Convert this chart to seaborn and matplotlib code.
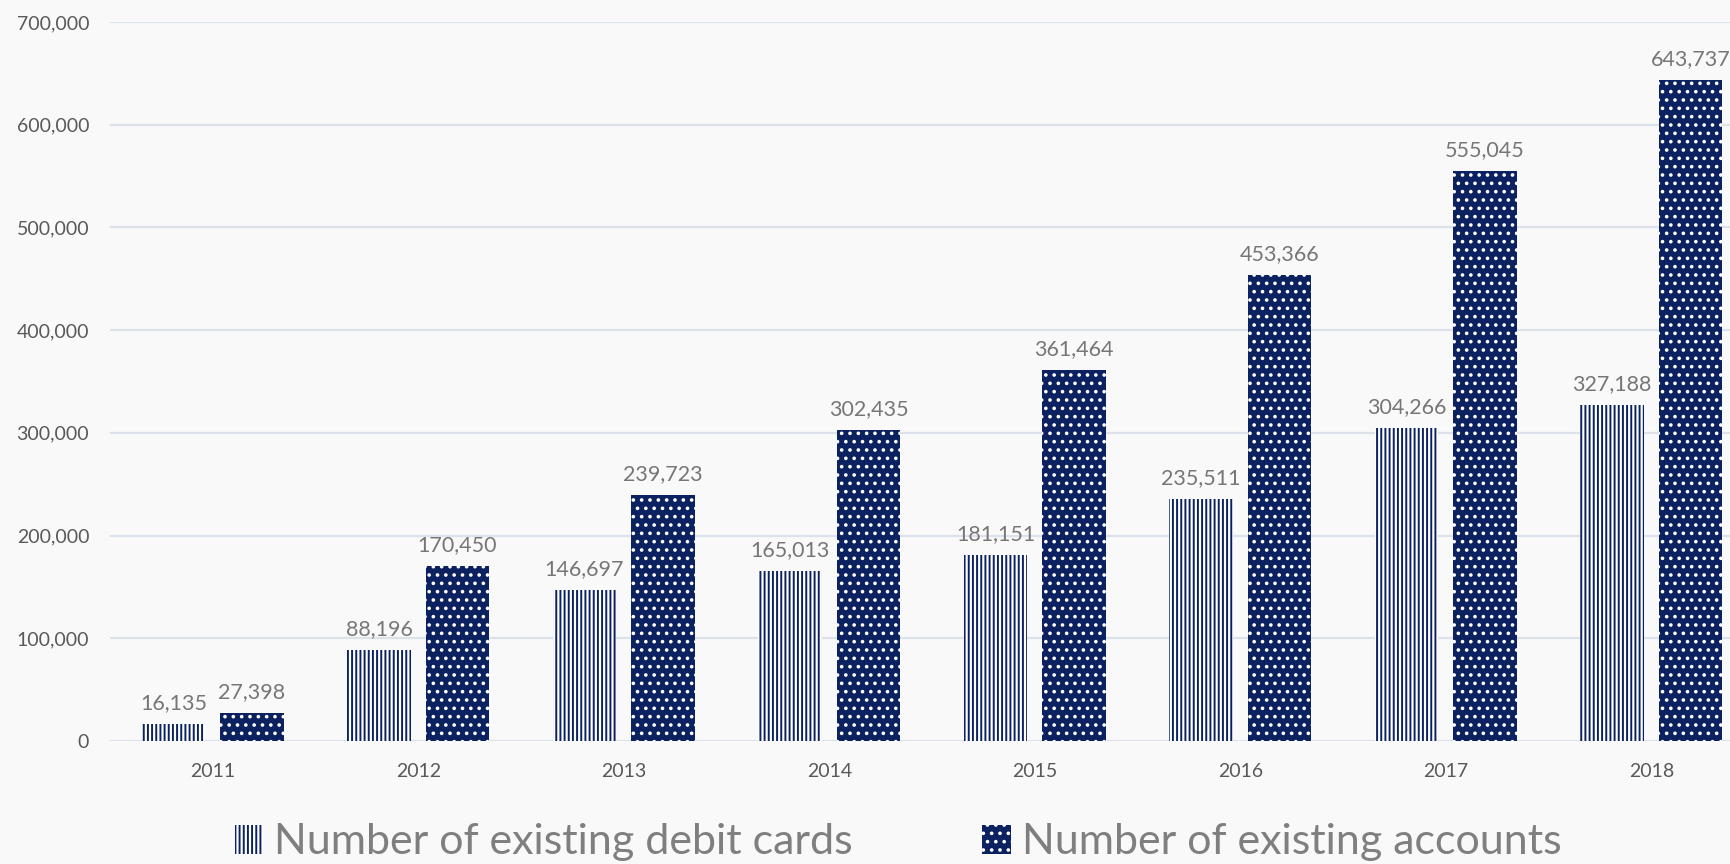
import numpy as np
import pandas as pd
import seaborn as sns
import matplotlib.pyplot as plt
from matplotlib.patches import Patch
from matplotlib.ticker import FuncFormatter

# Data
years = ['2011', '2012', '2013', '2014', '2015', '2016', '2017', '2018']
debit_cards = [16135, 88196, 146697, 165013, 181151, 235511, 304266, 327188]
accounts = [27398, 170450, 239723, 302435, 361464, 453366, 555045, 643737]
series_names = ['Number of existing debit cards', 'Number of existing accounts']
y_ticks = [0, 100000, 200000, 300000, 400000, 500000, 600000, 700000]

df = pd.DataFrame({
    'year': years * 2,
    'value': debit_cards + accounts,
    'series': [series_names[0]] * len(years) + [series_names[1]] * len(years),
})

NAVY = '#0b2160'
BG = '#f9f9f9'
GRID = '#dde1ea'
TICK_COLOR = '#595959'
LABEL_COLOR = '#767676'
LEGEND_COLOR = '#7f7f7f'

sns.set_theme(style='white')
plt.rcParams['font.family'] = ['Lato', 'DejaVu Sans']
plt.rcParams['hatch.linewidth'] = 1.4

fig = plt.figure(figsize=(17.3, 8.64), dpi=100, facecolor=BG)
left = 110 / 1730
bottom = 0.1424
top = 0.9745
ax = fig.add_axes([left, bottom, 1 - left, top - bottom])
ax.set_facecolor('none')

sns.barplot(data=df, x='year', y='value', hue='series', hue_order=series_names,
            palette=[NAVY, NAVY], width=0.764, gap=0.186, ax=ax,
            legend=False, errorbar=None, saturation=1)

# striped debit bars, dotted account bars
styles = [
    dict(facecolor='white', edgecolor=NAVY, hatch='||||'),
    dict(facecolor=NAVY, edgecolor='white', hatch='..'),
]
for cont, st in zip(ax.containers, styles):
    for bar in cont:
        bar.set_facecolor(st['facecolor'])
        bar.set_edgecolor(st['edgecolor'])
        bar.set_hatch(st['hatch'])
        bar.set_linewidth(0)

for cont, vals in zip(ax.containers, [debit_cards, accounts]):
    ax.bar_label(cont, labels=[f'{v:,}' for v in vals], padding=8,
                 fontsize=15.5, color=LABEL_COLOR)

ax.set_xlim(-0.5, 7.383)
ax.set_ylim(0, 700000)
ax.set_yticks(y_ticks)
ax.yaxis.set_major_formatter(FuncFormatter(lambda v, p: f'{int(v):,}'))
ax.tick_params(axis='both', length=0, labelsize=14, colors=TICK_COLOR)
ax.tick_params(axis='y', pad=15)
ax.tick_params(axis='x', pad=16)
ax.set_xlabel('')
ax.set_ylabel('')
ax.yaxis.grid(True, color=GRID, linewidth=1.6)
ax.set_axisbelow(True)
for s in ax.spines.values():
    s.set_visible(False)

handles = [Patch(facecolor=st['facecolor'], edgecolor=st['edgecolor'],
                 hatch=st['hatch'], linewidth=0) for st in styles]
fig.legend(handles, series_names, loc='center', bbox_to_anchor=(0.519, 0.025),
           ncol=2, frameon=False, fontsize=31, handlelength=0.67,
           handleheight=0.67, handletextpad=0.25, columnspacing=3.0,
           labelcolor=LEGEND_COLOR)

fig.savefig('out.png', dpi=100, facecolor=BG)
